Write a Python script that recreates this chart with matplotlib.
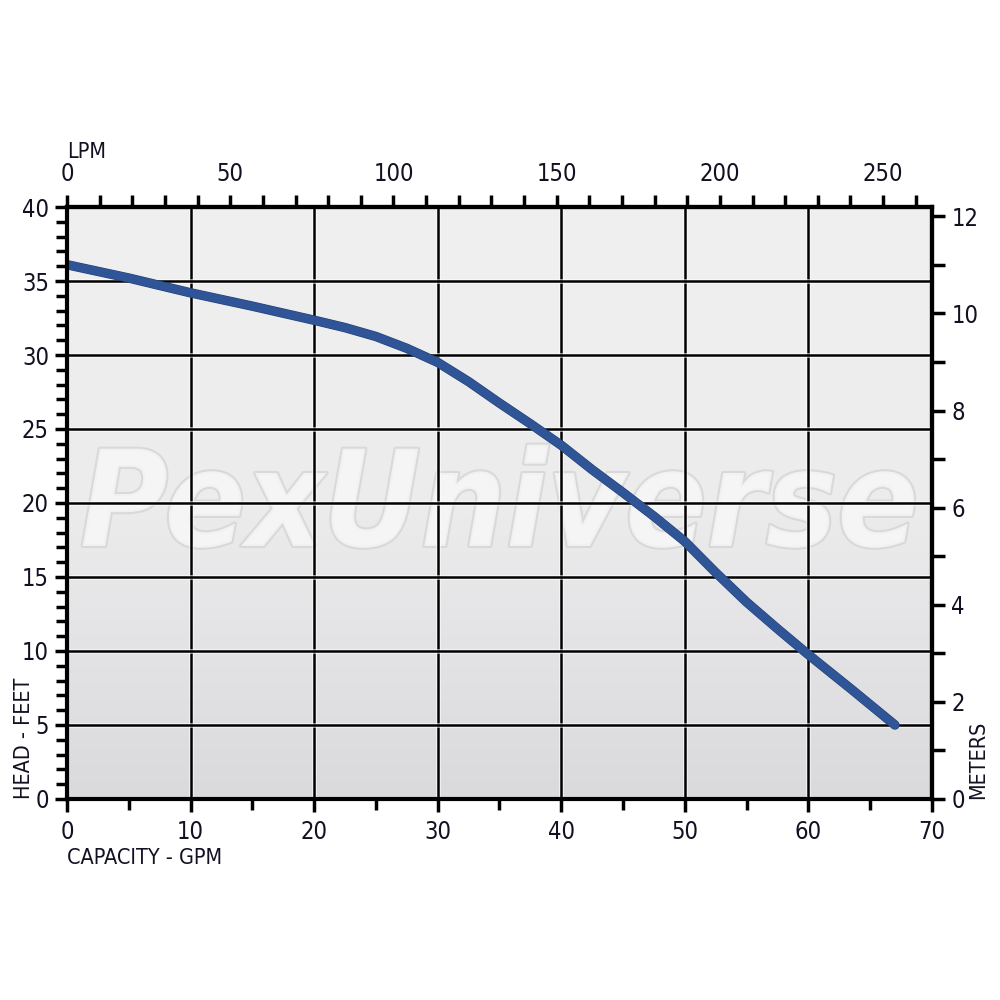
import numpy as np
import matplotlib
matplotlib.use("Agg")
import matplotlib.pyplot as plt
import matplotlib.patheffects as pe
from matplotlib.ticker import MultipleLocator
from matplotlib.colors import LinearSegmentedColormap

plt.rcParams['font.family'] = ['DejaVu Sans']
plt.rcParams['font.stretch'] = 'condensed'

gpm = [0, 5, 10, 15, 20, 22.5, 25, 27.5, 30, 32.5, 35, 37.5, 40, 42.5, 45, 47.5, 50, 52.5, 55, 57.5, 60, 63.5, 67]
head_ft = [36.1, 35.2, 34.2, 33.3, 32.35, 31.85, 31.25, 30.45, 29.5, 28.2, 26.75, 25.35, 23.9, 22.25, 20.7, 19.1, 17.4, 15.3, 13.3, 11.5, 9.75, 7.4, 5.0]

gpm_ticks = [0, 10, 20, 30, 40, 50, 60, 70]
ft_ticks = [0, 5, 10, 15, 20, 25, 30, 35, 40]
lpm_ticks = [0, 50, 100, 150, 200, 250]
m_ticks = [0, 2, 4, 6, 8, 10, 12]

LPM_PER_GPM = 3.78541
M_PER_FT = 0.3048

fig = plt.figure(figsize=(10, 10), dpi=100)
ax = fig.add_axes([0.067, 0.201, 0.865, 0.592])
ax.set_xlim(0, 70)
ax.set_ylim(0, 40)

# gradient background
grad = np.linspace(0, 1, 256).reshape(-1, 1)
ax.imshow(grad, extent=[0, 70, 0, 40], origin='lower', aspect='auto',
          cmap=LinearSegmentedColormap.from_list('bg2', ['#dadadd', '#ececed', '#f0f0f0']), zorder=0)

# watermark
ax.text(0.5, 0.49, 'PexUniverse', transform=ax.transAxes, ha='center', va='center', fontsize=96,
        fontweight='bold', fontstyle='italic', color='#f6f6f6', alpha=0.85, zorder=1,
        path_effects=[pe.withStroke(linewidth=3, foreground='#d6d6d6')])

# grid
for gx in gpm_ticks[1:-1]:
    ax.axvline(gx, color='black', lw=1.8, zorder=2,
               path_effects=[pe.Stroke(linewidth=3.5, foreground='white', alpha=0.6), pe.Normal()])
for gy in ft_ticks[1:-1]:
    ax.axhline(gy, color='black', lw=1.8, zorder=2,
               path_effects=[pe.Stroke(linewidth=3.5, foreground='white', alpha=0.6), pe.Normal()])

# curve
ax.plot(gpm, head_ft, color='#2f5597', lw=6.0, solid_capstyle='round', solid_joinstyle='round', zorder=5,
        path_effects=[pe.Stroke(linewidth=6.8, foreground='#213f78'), pe.Normal()])

for s in ax.spines.values():
    s.set_linewidth(3)
    s.set_color('black')
    s.set_zorder(6)

tick_font = 17
tcol = '#111122'
ax.set_xticks(gpm_ticks)
ax.xaxis.set_minor_locator(MultipleLocator(5))
ax.set_yticks(ft_ticks)
ax.yaxis.set_minor_locator(MultipleLocator(1))
ax.tick_params(axis='both', which='major', direction='out', length=9, width=2.5,
               labelsize=tick_font, labelcolor=tcol, pad=4)
ax.tick_params(axis='both', which='minor', direction='out', length=8, width=2.5)
ax.tick_params(axis='x', which='major', pad=6)

# top LPM axis
axt = ax.secondary_xaxis('top', functions=(lambda x: x * LPM_PER_GPM, lambda x: x / LPM_PER_GPM))
axt.set_xticks(lpm_ticks)
axt.xaxis.set_minor_locator(MultipleLocator(10))
axt.tick_params(which='major', direction='out', length=9, width=2.5, labelsize=tick_font,
                labelcolor=tcol, pad=6)
axt.tick_params(which='minor', direction='out', length=9, width=2.5)
axt.spines['top'].set_linewidth(3)

# right meters axis
axr = ax.secondary_yaxis('right', functions=(lambda y: y * M_PER_FT, lambda y: y / M_PER_FT))
axr.set_yticks(m_ticks)
axr.yaxis.set_minor_locator(MultipleLocator(1))
axr.tick_params(which='major', direction='out', length=9, width=2.5, labelsize=tick_font,
                labelcolor=tcol, pad=5)
axr.tick_params(which='minor', direction='out', length=9, width=2.5)
axr.spines['right'].set_linewidth(3)

lab_font = 15.5
fig.text(0.067, 0.838, 'LPM', fontsize=lab_font, color=tcol, ha='left', va='bottom')
fig.text(0.067, 0.132, 'CAPACITY - GPM', fontsize=lab_font, color=tcol, ha='left', va='bottom')
fig.text(0.014, 0.201, 'HEAD - FEET', fontsize=lab_font, color=tcol, rotation=90,
         ha='left', va='bottom')
fig.text(0.968, 0.201, 'METERS', fontsize=lab_font, color=tcol, rotation=90,
         ha='left', va='bottom')

fig.savefig('out.png', dpi=100, facecolor='white')
